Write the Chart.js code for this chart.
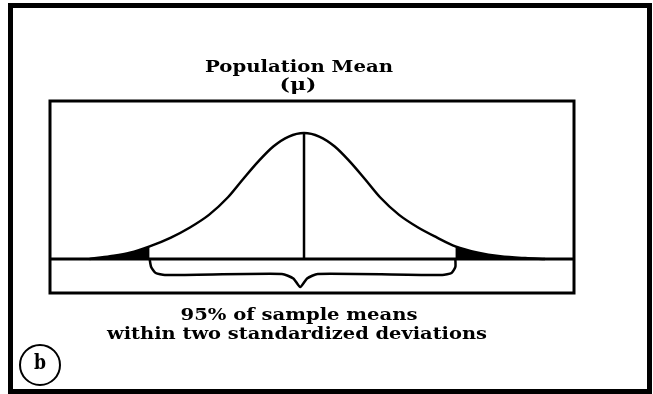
<!DOCTYPE html>
<html>
<head>
<meta charset="utf-8">
<script src="https://cdn.jsdelivr.net/npm/chart.js@4.4.1/dist/chart.umd.min.js"></script>
<style>
  html, body { margin: 0; padding: 0; background: #fff; }
  canvas { display: block; }
</style>
</head>
<body>
<canvas id="mycanvas" width="653" height="394"></canvas>
<script>
// curve: x in standard deviations from the mean, y relative height (peak = 1)
var curveX = [-2.82, -2.55, -2.29, -2.03, -1.75, -1.5, -1.25, -1.0, -0.8, -0.6, -0.4, -0.2, 0, 0.2, 0.4, 0.6, 0.8, 1.0, 1.25, 1.5, 1.75, 1.99, 2.29, 2.58, 2.91, 3.17];
var curveY = [0, 0.022, 0.05, 0.1, 0.17, 0.25, 0.35, 0.49, 0.635, 0.775, 0.895, 0.972, 1, 0.972, 0.895, 0.775, 0.635, 0.49, 0.35, 0.25, 0.17, 0.1, 0.05, 0.022, 0.007, 0];
var leftCut = -2.03;
var rightCut = 1.99;

// brace under the baseline
var braceX = [-2.03, -2.01, -1.95, -1.83, -0.29, -0.14, -0.05, 0.04, 0.18, 1.82, 1.94, 1.99, 1.99];
var braceY = [0, -0.063, -0.111, -0.127, -0.119, -0.155, -0.222, -0.155, -0.119, -0.127, -0.111, -0.063, 0];

var titleLines = ["Population Mean", "(\u03bc)"];
var noteLines = ["95% of sample means", "within two standardized deviations"];
var panelLabel = "b";

var xMin = -3.34, xMax = 3.55;
var yMin = -0.27, yMax = 1.254;

function pts(xs, ys) {
	var out = [];
	for (var i in xs) {
		out.push({x: xs[i], y: ys[i]});
	}
	return out;
}

var curve = pts(curveX, curveY);
var leftTail = curve.filter(function(p){ return p.x <= leftCut; });
var rightTail = curve.filter(function(p){ return p.x >= rightCut; });

function drawStretched(ctx, text, cx, cy, width, font) {
	ctx.save();
	ctx.font = font;
	var w = ctx.measureText(text).width;
	ctx.translate(cx, cy);
	ctx.scale(width / w, 1);
	ctx.textAlign = "center";
	ctx.textBaseline = "middle";
	ctx.fillStyle = "#000";
	ctx.fillText(text, 0, 0);
	ctx.restore();
}

var decorations = {
	id: "decorations",
	afterDraw: function(chart) {
		var ctx = chart.ctx;
		var a = chart.chartArea;
		ctx.save();
		// inner box
		ctx.strokeStyle = "#000";
		ctx.lineWidth = 3;
		ctx.strokeRect(a.left, a.top, a.right - a.left, a.bottom - a.top);
		// outer frame
		ctx.lineWidth = 5;
		ctx.strokeRect(10.5, 5.5, 639, 386);
		// panel label circle
		ctx.lineWidth = 2;
		ctx.beginPath();
		ctx.arc(40, 365, 20, 0, Math.PI * 2);
		ctx.stroke();
		ctx.restore();

		var f = "bold 16px 'DejaVu Serif'";
		drawStretched(ctx, titleLines[0], 299, 68, 188, f);
		drawStretched(ctx, titleLines[1], 298, 86, 37, f);
		drawStretched(ctx, noteLines[0], 299, 316, 237, f);
		drawStretched(ctx, noteLines[1], 297, 335, 380, f);
		drawStretched(ctx, panelLabel, 40, 364, 12, "bold 20px 'DejaVu Serif'");
	}
};

var ctx = document.getElementById("mycanvas");

var chart = new Chart(ctx, {
	type: "line",
	data: {
		datasets: [
			{
				data: leftTail,
				borderWidth: 0,
				backgroundColor: "#000",
				fill: "origin",
				pointRadius: 0,
				cubicInterpolationMode: "monotone"
			},
			{
				data: rightTail,
				borderWidth: 0,
				backgroundColor: "#000",
				fill: "origin",
				pointRadius: 0,
				cubicInterpolationMode: "monotone"
			},
			{
				data: curve,
				borderColor: "#000",
				borderWidth: 2.5,
				fill: false,
				pointRadius: 0,
				cubicInterpolationMode: "monotone"
			},
			{
				data: [{x: xMin, y: 0}, {x: xMax, y: 0}],
				borderColor: "#000",
				borderWidth: 3,
				fill: false,
				pointRadius: 0
			},
			{
				data: [{x: 0, y: 0}, {x: 0, y: 1}],
				borderColor: "#000",
				borderWidth: 2.5,
				fill: false,
				pointRadius: 0
			},
			{
				data: pts(braceX, braceY),
				borderColor: "#000",
				borderWidth: 2.5,
				fill: false,
				pointRadius: 0,
				tension: 0.2
			}
		]
	},
	options: {
		responsive: false,
		animation: false,
		layout: { padding: { left: 50, right: 79, top: 101, bottom: 101 } },
		plugins: {
			legend: { display: false },
			tooltip: { enabled: false }
		},
		scales: {
			x: { type: "linear", min: xMin, max: xMax, display: false },
			y: { type: "linear", min: yMin, max: yMax, display: false }
		}
	},
	plugins: [decorations]
});
</script>
</body>
</html>
